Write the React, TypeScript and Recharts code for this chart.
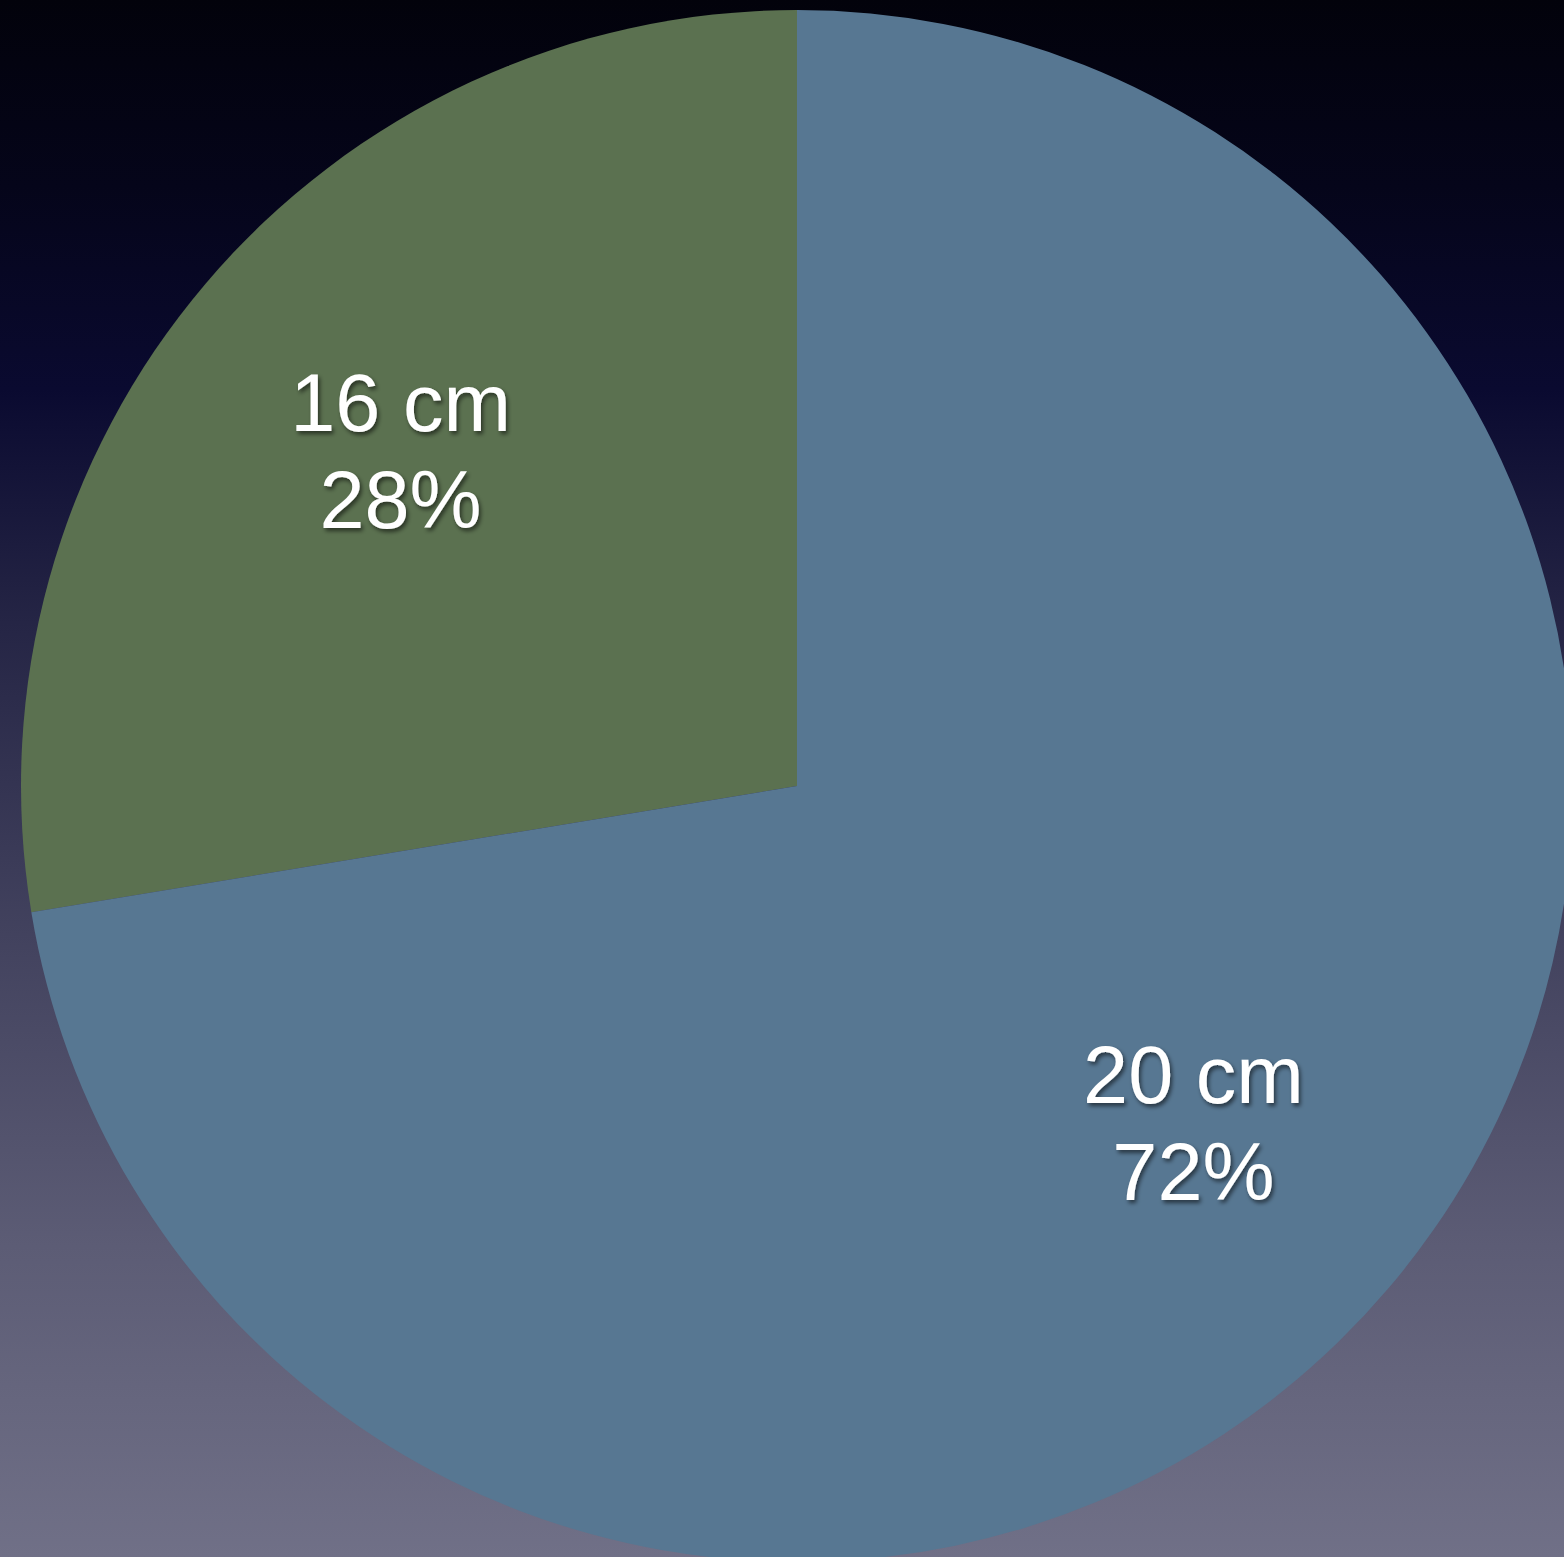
import { Cell, Pie, PieChart } from "recharts";

const SIZES = ["16 cm", "20 cm"];
const SHARES = [27.6, 72.4];
const COLORS = ["#5b7150", "#577792"];

const RAD = Math.PI / 180;

const data = SIZES.map((name, i) => ({ name, value: SHARES[i] }));

function renderLabel(props: any) {
  const { cx, cy, midAngle, outerRadius, percent, name } = props;
  const r = outerRadius * 0.67;
  const x = cx + r * Math.cos(-midAngle * RAD);
  const y = cy + r * Math.sin(-midAngle * RAD);
  return (
    <text
      x={x}
      y={y}
      textAnchor="middle"
      fill="#ffffff"
      fontFamily="'Liberation Sans', Arial, sans-serif"
      fontSize={81}
      filter="url(#labelShadow)"
    >
      <tspan x={x} y={y - 19}>
        {name}
      </tspan>
      <tspan x={x} y={y + 78}>
        {`${Math.round(percent * 100)}%`}
      </tspan>
    </text>
  );
}

export default function App() {
  return (
    <div
      style={{
        position: "absolute",
        left: 0,
        top: 0,
        width: 1564,
        height: 1557,
        overflow: "hidden",
        background:
          "linear-gradient(to bottom, #02020b 0%, #05051a 12%, #0a0a30 25%, #252545 40%, #42425e 60%, #5c5c75 80%, #707087 100%)",
      }}
    >
      <PieChart width={1564} height={1557} margin={{ top: 0, right: 0, bottom: 0, left: 0 }}>
        <defs>
          <filter id="labelShadow" x="-10%" y="-10%" width="120%" height="130%">
            <feDropShadow dx="2" dy="3" stdDeviation="2" floodColor="#000" floodOpacity="0.55" />
          </filter>
        </defs>
        <Pie
          data={data}
          dataKey="value"
          nameKey="name"
          cx={797}
          cy={786}
          outerRadius={776}
          startAngle={90}
          endAngle={450}
          stroke="none"
          label={renderLabel}
          labelLine={false}
          isAnimationActive={false}
        >
          {data.map((_, idx) => (
            <Cell key={idx} fill={COLORS[idx]} />
          ))}
        </Pie>
      </PieChart>
    </div>
  );
}
